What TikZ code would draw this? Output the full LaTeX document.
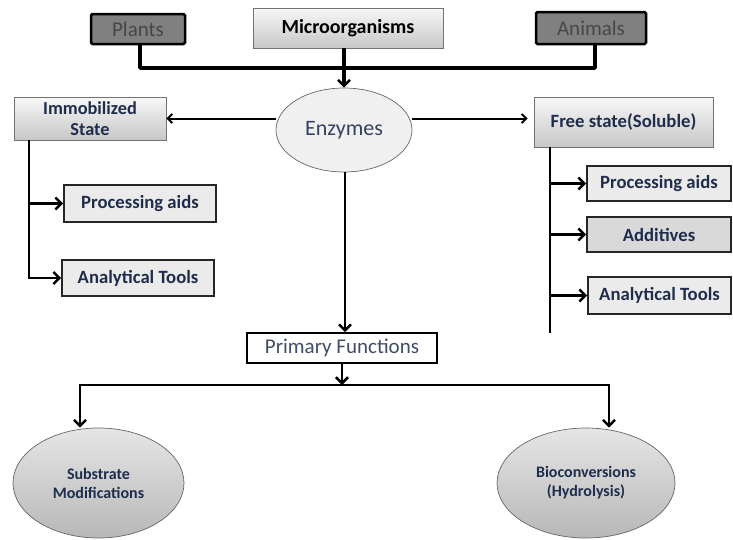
\documentclass[tikz,border=0pt]{standalone}
\usepackage{fontspec}
\setmainfont{Carlito}
\usetikzlibrary{shapes.geometric,arrows.meta,calc}
\definecolor{txtblue}{HTML}{1F2D4D}
\definecolor{darkfill}{HTML}{808080}
\definecolor{boxfill}{HTML}{EBEBEB}
\definecolor{addfill}{HTML}{D9D9D9}

\begin{document}
\begin{tikzpicture}[x=1pt,y=-1pt,
    srcbox/.style={draw=black, line width=2.5pt, fill=darkfill, rounded corners=1.5pt,
        text=black!72, font=\fontsize{21}{24}\selectfont, inner sep=0pt},
    shbox/.style={draw=black!55, line width=0.8pt, top color=black!3, bottom color=black!22,
        text=black, font=\bfseries\fontsize{18.7}{21}\selectfont, inner sep=0pt, align=center},
    usebox/.style={draw=black!85, line width=1.6pt, fill=boxfill,
        text=txtblue, font=\bfseries\fontsize{18.7}{21}\selectfont, inner sep=0pt},
    oval/.style={ellipse, draw=black!60, line width=0.7pt, inner sep=0pt, align=center, text=txtblue},
    arr/.style={-{Straight Barb[length=6pt,width=12pt,line width=2.5pt]}},
    thinarr/.style={-{Straight Barb[length=4.5pt,width=9pt,line width=2pt]}, line width=2pt}
]
\useasboundingbox (0,0) rectangle (733,539);

% sources
\node[srcbox, minimum width=94pt, minimum height=30pt] (plants) at (138,29) {Plants};
\node[shbox, minimum width=190pt, minimum height=40pt, font=\bfseries\fontsize{20}{22}\selectfont] (micro) at (348,28) {Microorganisms};
\node[srcbox, minimum width=110pt, minimum height=32pt] (animals) at (591,28) {Animals};

\node[oval, fill=black!6, minimum width=136pt, minimum height=84pt, text=txtblue!90,
      font=\fontsize{22}{24}\selectfont] (enz) at (344,130) {Enzymes};

\node[shbox, minimum width=152pt, minimum height=43pt, text=txtblue,
      font=\bfseries\fontsize{18.3}{21}\selectfont] (imm) at (90,118.5) {Immobilized\\State};
\node[shbox, minimum width=179pt, minimum height=50pt, text=txtblue] (free) at (623.5,122) {Free state(Soluble)};

% uses, left
\node[usebox, minimum width=152pt, minimum height=37pt] (lpa) at (140,203.5) {Processing aids};
\node[usebox, minimum width=152pt, minimum height=36pt] (lat) at (138,278) {Analytical Tools};

% uses, right
\node[usebox, minimum width=144pt, minimum height=35pt] (rpa) at (659,183.5) {Processing aids};
\node[usebox, minimum width=144pt, minimum height=35pt, fill=addfill] (add) at (659,234.5) {Additives};
\node[usebox, minimum width=143pt, minimum height=37pt] (rat) at (659.5,295.5) {Analytical Tools};

\node[draw=black, line width=1.6pt, fill=white, minimum width=190pt, minimum height=30pt, inner sep=0pt,
      text=txtblue!85, font=\fontsize{21}{23}\selectfont] (prim) at (342,348) {Primary Functions};

\node[oval, top color=black!10, bottom color=black!28, minimum width=171pt, minimum height=110pt,
      font=\bfseries\fontsize{16}{19}\selectfont] (sub) at (98.5,483) {Substrate\\Modifications};
\node[oval, top color=black!10, bottom color=black!28, minimum width=178pt, minimum height=110pt,
      font=\bfseries\fontsize{16}{19}\selectfont] (bio) at (586,483) {Bioconversions\\(Hydrolysis)};

% top connector
\coordinate (top) at (344,68);
\draw[line width=3.5pt, line join=round] (plants.south -| 140,0) |- (top) -| (animals.south -| 595,0);
\draw[line width=3.5pt, arr] (micro.south -| top) -- (enz.north);

% enzymes to states
\draw[thinarr] (enz.west |- imm.east) -- (imm.east);
\draw[thinarr, shorten >=6pt] (enz.east |- imm.east) -- (free.west |- imm.east);

% immobilized branch
\coordinate (lbus) at (29,140);
\draw[line width=2.5pt, arr] (lbus) |- (lat.west);
\draw[line width=2.5pt, arr] (lbus |- lpa.west) -- (lpa.west);

% free state branch
\coordinate (rbus) at (550,147);
\draw[line width=2.5pt] (rbus) -- (550,333);
\draw[line width=2.5pt, arr] (rbus |- rpa.west) -- (rpa.west);
\draw[line width=2.5pt, arr] (rbus |- add.west) -- (add.west);
\draw[line width=2.5pt, arr] (rbus |- rat.west) -- (rat.west);

% functions
\draw[line width=2.5pt, arr] (enz.south -| 345,0) -- (prim.north -| 345,0);
\coordinate (pj) at (342,385);
\draw[line width=2.5pt, arr] (prim.south) -- (pj);
\draw[line width=2pt, arr] (pj) -| (sub.north -| 80,0);
\draw[line width=2pt, arr] (pj) -| (bio.north -| 609,0);

\end{tikzpicture}
\end{document}
